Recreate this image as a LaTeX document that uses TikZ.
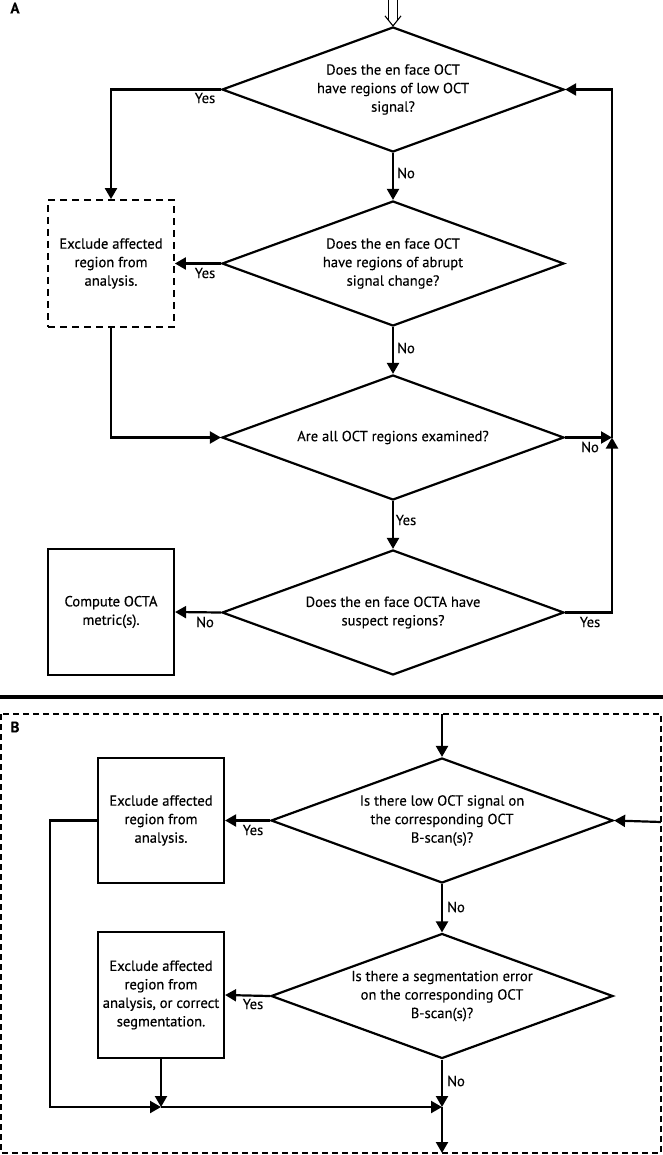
\documentclass[tikz,border=0pt]{standalone}
\usepackage{fontspec}
\setmainfont{PT Sans}[FakeBold=0.15]
\newfontfamily\boxfont{PT Sans}[FakeBold=0.5]
\usetikzlibrary{shapes.geometric,arrows.meta}
\begin{document}
\begin{tikzpicture}[x=1pt,y=-1pt,
  every node/.style={font=\fontsize{14.6}{18.5}\selectfont},
  dec/.style={diamond,draw,line width=2.2pt,minimum width=342pt,minimum height=125pt,inner sep=0pt,aspect=2.736,align=center},
  solidbox/.style={draw,line width=2.2pt,minimum width=126pt,minimum height=126pt,inner sep=0pt,align=center,font=\boxfont\fontsize{14.6}{18.5}\selectfont},
  dashbox/.style={draw,line width=1.8pt,dash pattern=on 7pt off 5pt,minimum width=126pt,minimum height=127pt,inner sep=0pt,align=center,font=\boxfont\fontsize{14.6}{18.5}\selectfont},
  conn/.style={line width=2.2pt},
  arr/.style={conn,-{Triangle[length=11pt,width=12pt]}},
  lbl/.style={inner sep=0pt},
  panel/.style={font=\fontsize{15}{16}\selectfont\bfseries,inner sep=0pt}]
\useasboundingbox (0,0) rectangle (663,1155);
% ---------- Part A ----------
\node[panel] (A) at (15,8) {A};
\node[dec] (d1) at (393,89.5) {Does the en face OCT\\have regions of low OCT\\signal?};
\node[dec] (d2) at (393,263.5) {Does the en face OCT\\have regions of abrupt\\signal change?};
\node[dec] (d3) at (393,437.5) {Are all OCT regions examined?};
\node[dec] (d4) at (393,612.5) {Does the en face OCTA have\\suspect regions?};
\node[dashbox] (b1) at (111,263.5) {Exclude affected\\region from\\analysis.};
\node[solidbox] (b2) at (111,612) {Compute OCTA\\metric(s).};
\coordinate (top) at (393,0);
\coordinate (jr) at (612,437.5);
% double entry arrow
\draw[line width=1.1pt] ([xshift=-4.5pt]top) -- ([shift={(-4.5,-5)}]d1.north);
\draw[line width=1.1pt] ([xshift=4.5pt]top) -- ([shift={(4.5,-5)}]d1.north);
\draw[line width=1.1pt,line join=miter] ([shift={(-8,-10)}]d1.north) -- (d1.north) -- ([shift={(8,-10)}]d1.north);
\draw[arr] (d1.west) -| (b1.north);
\draw[arr] (d1.south) -- (d2.north);
\draw[arr] (d2.west) -- (b1.east);
\draw[arr] (b1.south) |- (d3.west);
\draw[arr] (d2.south) -- (d3.north);
\draw[arr] (d3.east) -- (jr);
\draw[arr] (d3.south) -- (d4.north);
\draw[arr] (d4.east) -| (jr);
\draw[arr] (jr) |- (d1.east);
\draw[arr] (d4.west) -- (b2.east);
\node[lbl] (y1) at (205,98) {Yes};
\node[lbl] (n1) at (406,173) {No};
\node[lbl] (y2) at (205,273) {Yes};
\node[lbl] (n2) at (406,348) {No};
\node[lbl] (n3) at (590,447) {No};
\node[lbl] (y3) at (406,520) {Yes};
\node[lbl] (y4) at (590,622) {Yes};
\node[lbl] (n4) at (205,622) {No};
% separator
\draw[line width=4pt] (0,697) -- (663,697);
% ---------- Part B ----------
\draw[line width=1.8pt,dash pattern=on 6pt off 4pt] (1,714) rectangle (661,1153);
\node[panel] (B) at (15,727) {B};
\node[dec] (d5) at (442,820.5) {Is there low OCT signal on\\the corresponding OCT\\B-scan(s)?};
\node[dec] (d6) at (442,996) {Is there a segmentation error\\on the corresponding OCT\\B-scan(s)?};
\node[solidbox,minimum height=125pt] (b3) at (161,820.5) {Exclude affected\\region from\\analysis.};
\node[solidbox] (b4) at (161,995) {Exclude affected\\region from\\analysis, or correct\\segmentation.};
\coordinate (tb) at (442,714);
\coordinate (rb) at (661,822);
\coordinate (lc) at (50,820.5);
\coordinate (j1) at (161,1107);
\coordinate (j2) at (442,1107);
\coordinate (bb) at (442,1153);
\draw[arr] (tb) -- (d5.north);
\draw[arr] (rb) -- (d5.east);
\draw[arr] (d5.west) -- (b3.east);
\draw[arr] (d5.south) -- (d6.north);
\draw[arr] (d6.west) -- (b4.east);
\draw[arr] (b3.west) -- (lc) |- (j1);
\draw[arr] (b4.south) -- (j1);
\draw[arr] (j1) -- (j2);
\draw[arr] (d6.south) -- (j2);
\draw[arr] (j2) -- (bb);
\node[lbl] (y5) at (253,830) {Yes};
\node[lbl] (n5) at (456,907) {No};
\node[lbl] (y6) at (253,1004) {Yes};
\node[lbl] (n6) at (456,1081) {No};
\end{tikzpicture}
\end{document}
